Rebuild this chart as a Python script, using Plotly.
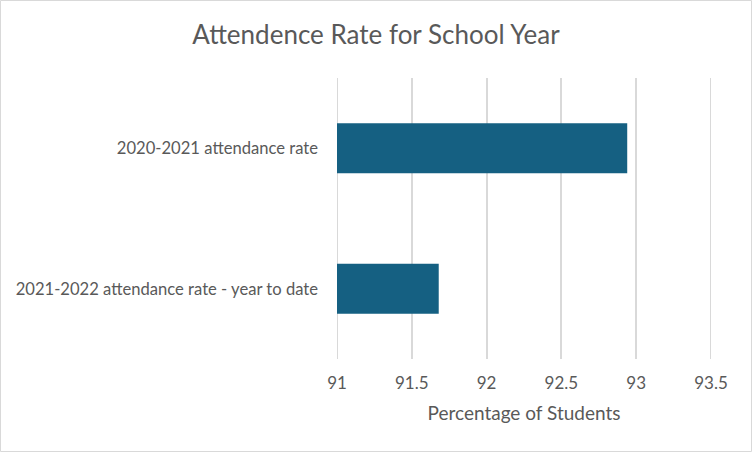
import plotly.graph_objects as go

categories = ["2020-2021 attendance rate", "2021-2022 attendance rate - year to date"]
values = [92.94, 91.68]
x_ticks = [91, 91.5, 92, 92.5, 93, 93.5]
x_tick_labels = ["91", "91.5", "92", "92.5", "93", "93.5"]
axis_start = 91

TEXT = "#595959"
GRID = "#d9d9d9"
BAR = "#156082"

fig = go.Figure(
    go.Bar(
        y=categories,
        x=[v - axis_start for v in values],
        base=axis_start,
        orientation="h",
        marker=dict(color=BAR, line=dict(width=0)),
        width=0.356,
    )
)

fig.update_layout(
    width=752,
    height=452,
    margin=dict(l=337, r=41, t=78, b=93, autoexpand=False),
    paper_bgcolor="white",
    plot_bgcolor="white",
    showlegend=False,
    title=dict(
        text="Attendence Rate for School Year",
        x=0.5,
        xref="container",
        xanchor="center",
        y=1 - 35 / 452,
        yanchor="middle",
        font=dict(family="Lato, sans-serif", size=26, color=TEXT),
    ),
    font=dict(family="Lato, sans-serif", color=TEXT, size=17),
)

fig.update_xaxes(
    range=[x_ticks[0], x_ticks[-1]],
    tickvals=x_ticks,
    ticktext=x_tick_labels,
    showgrid=True,
    gridcolor=GRID,
    gridwidth=2,
    zeroline=False,
    showline=False,
    ticks="",
    automargin=False,
    ticklabelstandoff=12,
    tickfont=dict(size=17, color=TEXT),
    title=dict(text="Percentage of Students", font=dict(size=19, color=TEXT), standoff=14),
)
fig.update_yaxes(
    categoryorder="array",
    categoryarray=categories[::-1],
    range=[-0.5, 1.5],
    showgrid=False,
    zeroline=False,
    showline=False,
    ticks="",
    automargin=False,
    ticklabelstandoff=18,
    tickfont=dict(size=16.6, color=TEXT),
)
# edge gridlines (plotly omits grid lines on the plot-area boundary)
for xv in (x_ticks[0], x_ticks[-1]):
    fig.add_shape(
        type="line", xref="x", yref="paper", x0=xv, x1=xv, y0=0, y1=1,
        line=dict(color=GRID, width=2), layer="below",
    )
fig.add_shape(
    type="rect", xref="paper", yref="paper",
    x0=-336.5 / 374, x1=1 + 40.5 / 374, y0=-92.5 / 281, y1=1 + 77.5 / 281,
    line=dict(color=GRID, width=1), fillcolor="rgba(0,0,0,0)", layer="below",
)
fig.write_html("out.html")
